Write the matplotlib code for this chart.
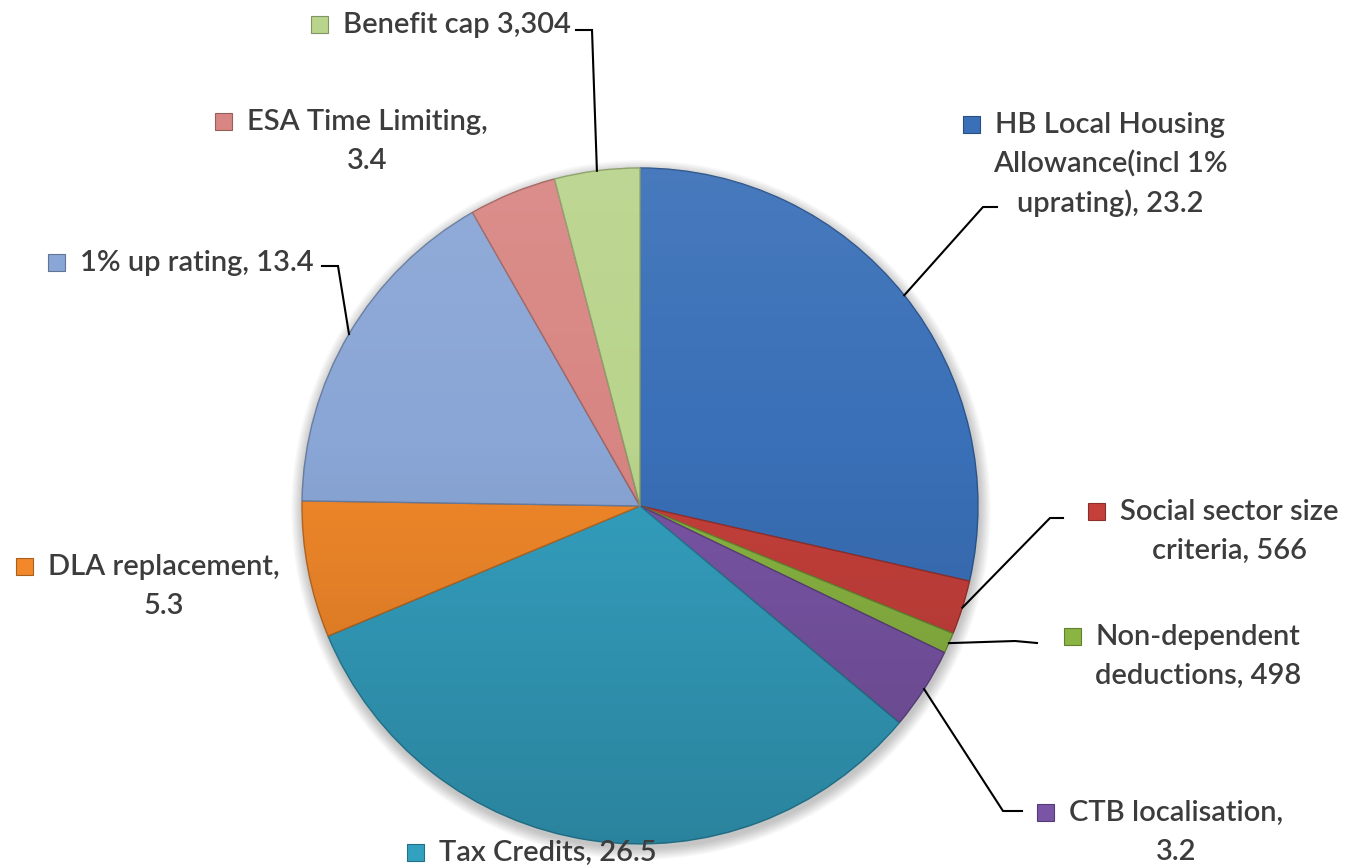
import numpy as np
import matplotlib.pyplot as plt
from matplotlib.patches import Circle, Rectangle
from matplotlib.colors import to_rgb

W, H = 1348, 868

# ── Data ──────────────────────────────────────────────────────────────────────
categories = [
    "HB Local Housing\nAllowance(incl 1%\nuprating)",
    "Social sector size\ncriteria",
    "Non-dependent\ndeductions",
    "CTB localisation",
    "Tax Credits",
    "DLA replacement",
    "1% up rating",
    "ESA Time Limiting",
    "Benefit cap",
]
values = [23.2, 2.1, 0.8, 3.2, 26.5, 5.3, 13.4, 3.4, 3.304]
value_text = ["23.2", "566", "498", "3.2", "26.5", "5.3", "13.4", "3.4", "3,304"]

colors = ["#3A70B8", "#C6403B", "#8AB542", "#7A55A6", "#34A0C0",
          "#F2882A", "#8AA6D6", "#D88683", "#B9D48C"]

# ── Layout (pixel coords, y measured from the top) ────────────────────────────
cx, cy, R = 640, H - 506, 338
joins = [", ", ", ", ", ", ",\n", ", ", ",\n", ", ", ",\n", " "]
label_pos = [(1110, 125), (1229, 512), (1198, 637), (1176, 813), (548, 853),
             (164, 567), (197, 263), (367, 122), (457, 25)]
leaders = [[(983, 207), (997, 207)],
           [(1050, 518), (1063, 518)],
           [(1015, 641), (1037, 643)],
           [(1003, 811), (1022, 811)],
           None,
           None,
           [(338, 266), (322, 266)],
           None,
           [(592, 30), (576, 30)]]
LINE_GAP = 39
TEXT_COLOR = "#3C3C3C"
FONT = dict(family="Lato", size=21, weight="semibold", color=TEXT_COLOR)


def shade(c, f):
    r, g, b = to_rgb(c)
    if f >= 0:
        return (r + (1 - r) * f, g + (1 - g) * f, b + (1 - b) * f)
    return (r * (1 + f), g * (1 + f), b * (1 + f))


fig = plt.figure(figsize=(W / 100, H / 100), dpi=100)
ax = fig.add_axes([0, 0, 1, 1])

# soft drop shadow under the pie
for i in range(10):
    ax.add_patch(Circle((cx + 1, cy - 4), R + 1 + i * 1.2, color="black",
                        alpha=0.025, lw=0, zorder=0))

wedges, _ = ax.pie(values, colors=colors, startangle=90, counterclock=False,
                   center=(cx, cy), radius=R,
                   wedgeprops=dict(linewidth=1.0))
for w, c in zip(wedges, colors):
    w.set_edgecolor(shade(c, -0.25))
    w.set_zorder(2)

# vertical light-to-dark gradient across the whole pie
grad = np.linspace(0, 1, 400)
rgba = np.zeros((400, 1, 4))
top = grad < 0.4
rgba[top, 0, :3] = 1.0
rgba[top, 0, 3] = 0.07 * (1 - grad[top] / 0.4)
rgba[~top, 0, 3] = 0.18 * (grad[~top] - 0.4) / 0.6
clip = Circle((cx, cy), R, transform=ax.transData)
img = ax.imshow(rgba, extent=(cx - R, cx + R, cy - R, cy + R), origin="upper",
                aspect="auto", interpolation="bilinear", zorder=3)
img.set_clip_path(clip)

ax.set_xlim(0, W)
ax.set_ylim(0, H)
ax.set_aspect("equal")
ax.axis("off")

# labels with colour keys and leader lines
fig.canvas.draw()
renderer = fig.canvas.get_renderer()
for w, name, val, sep, (lx, ly), lead, c in zip(
        wedges, categories, value_text, joins, label_pos, leaders, colors):
    lines = (name + sep + val).split("\n")
    first = None
    for i, line in enumerate(lines):
        t = ax.text(lx, H - ly - i * LINE_GAP, line, ha="center", va="center",
                    zorder=5, **FONT)
        if i == 0:
            first = t
    bb = first.get_window_extent(renderer)
    ax.add_patch(Rectangle((bb.x0 - 32, H - ly - 8), 17, 17,
                           facecolor=c, edgecolor=shade(c, -0.3), lw=0.8,
                           zorder=5))

    if lead is not None:
        mid = np.deg2rad((w.theta1 + w.theta2) / 2)
        pts = [(cx + R * np.cos(mid), cy + R * np.sin(mid))]
        pts += [(x, H - y) for x, y in lead]
        xs, ys = zip(*pts)
        ax.plot(xs, ys, color="black", lw=1.5, zorder=4,
                solid_joinstyle="miter")

fig.savefig("out.png", dpi=100)
